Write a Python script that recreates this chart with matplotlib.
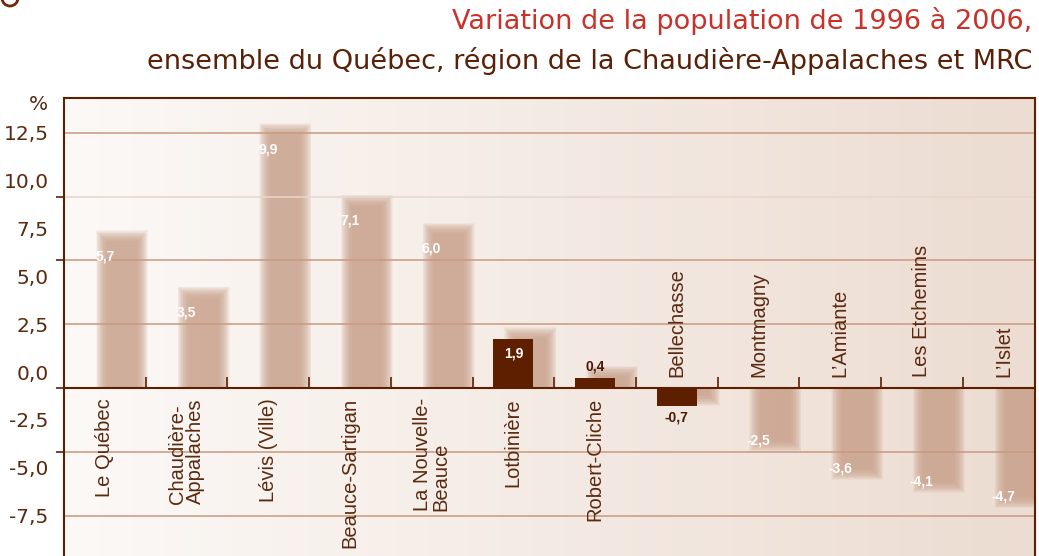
import numpy as np
import matplotlib
matplotlib.use("Agg")
import matplotlib.pyplot as plt
from matplotlib.patches import Circle
from matplotlib.colors import LinearSegmentedColormap

# Data
regions = ["Le Québec", "Chaudière-\nAppalaches", "Lévis (Ville)", "Beauce-Sartigan",
           "La Nouvelle-\nBeauce", "Lotbinière", "Robert-Cliche", "Bellechasse",
           "Montmagny", "L’Amiante", "Les Etchemins", "L’Islet"]
variation = [5.7, 3.5, 9.9, 7.1, 6.0, 1.9, 0.4, -0.7, -2.5, -3.6, -4.1, -4.7]
highlight = [False, False, False, False, False, True, True, True, False, False, False, False]
tick_labels = ["12,5", "10,0", "7,5", "5,0", "2,5", "0,0", "-2,5", "-5,0", "-7,5"]
grid_values = [10, 7.5, 5, 2.5, -2.5, -5]

DARK = "#5e1f00"
TXT = "#5a2a10"
SHADOW = "#cba38d"

fig = plt.figure(figsize=(10.39, 5.56), dpi=100)
ax = fig.add_axes([64 / 1039, 0, 971 / 1039, 458 / 556])

px_x = 1 / 81.7      # one pixel in x data units
px_y = 1 / 25.53     # one pixel in y data units
ax.set_xlim(-0.5, -0.5 + 971 * px_x)
ax.set_ylim(-168 * px_y, 290 * px_y)

# background gradient
grad = np.linspace(0, 1, 256).reshape(1, -1)
bg = LinearSegmentedColormap.from_list("bg", ["#fcf9f7", "#ecdcd1"])
ax.imshow(grad, cmap=bg, aspect="auto", extent=[ax.get_xlim()[0], ax.get_xlim()[1],
          ax.get_ylim()[0], ax.get_ylim()[1]], zorder=0)

x = np.arange(len(variation))
w = 0.49
vals = np.array(variation)
pos = vals >= 0

# soft shadows (layered translucent bars)
dx, dy = 17 * px_x, 6 * px_y
for pad in np.linspace(-5, 6, 16):
    end = vals + dy + np.where(pos, pad, -pad) * px_y
    lo = np.where(pos, 0, end)
    hi = np.where(pos, end, 0)
    ax.bar(x + dx, hi - lo, bottom=lo, width=w + 2 * pad * px_x,
           color=SHADOW, alpha=0.1, linewidth=0, zorder=1)

# gridlines
for g in grid_values:
    ax.axhline(g, color="#e8d6ca" if g == 7.5 else "#c89a80", lw=1.1, zorder=2)

# highlighted bars
hl = np.array(highlight)
ax.bar(x[hl], vals[hl], width=w, color=DARK, linewidth=0, zorder=3)

# value labels
for xi, v, h in zip(x, vals, highlight):
    s = f"{v:.1f}".replace(".", ",")
    if h and abs(v) < 1:
        y = v + (11 if v > 0 else -12) * px_y
        col = "#4a1805"
    else:
        y = v - (14 if v > 0 else -11) * px_y
        col = "white"
    ax.text(xi, y, s, ha="center", va="center", fontsize=10, fontweight="bold",
            color=col, family="Liberation Sans", zorder=4)

# category labels
for xi, v, name in zip(x, vals, regions):
    if v >= 0:
        ax.text(xi, -10 * px_y, name, rotation=90, ha="center", va="top",
                multialignment="left", fontsize=14.5, color=TXT,
                family="Liberation Sans", zorder=4, linespacing=0.95)
    else:
        ax.text(xi, 11 * px_y, name, rotation=90, ha="center", va="bottom",
                multialignment="left", fontsize=14.5, color=TXT,
                family="Liberation Sans", zorder=4, linespacing=0.95)

# axes styling
for side in ["left", "top", "right"]:
    ax.spines[side].set_color(DARK)
    ax.spines[side].set_linewidth(1.5)
ax.spines["bottom"].set_position(("data", 0))
ax.spines["bottom"].set_color(DARK)
ax.spines["bottom"].set_linewidth(1.5)
ax.spines["bottom"].set_zorder(5)

ax.set_xticks(x[:-1] + 0.5)
ax.set_xticklabels([])
ax.tick_params(axis="x", direction="in", length=8, width=1.2, color=DARK)

ax.set_yticks(np.linspace(10, -5, len(tick_labels)), labels=tick_labels)
ax.set_yticks([-5, -2.5, 0, 2.5, 5, 7.5, 10], minor=True)
ax.tick_params(axis="y", which="major", length=0, pad=11, labelsize=14.5,
               labelcolor=TXT)
ax.tick_params(axis="y", which="minor", length=6, width=1.2, color=DARK,
               direction="out")
for lab in ax.get_yticklabels():
    lab.set_family("DejaVu Sans")

fig.text(38 / 1039, 1 - 105 / 556, "%", ha="center", va="center", fontsize=14.5,
         color=TXT, family="DejaVu Sans")

# titles
fig.text(1032 / 1039, 1 - 21 / 556, "Variation de la population de 1996 à 2006,",
         ha="right", va="center", fontsize=19.5, color="#c8322a", family="DejaVu Sans")
fig.text(1032 / 1039, 1 - 61 / 556,
         "ensemble du Québec, région de la Chaudière-Appalaches et MRC",
         ha="right", va="center", fontsize=19.5, color="#5a2108", family="DejaVu Sans")

fig.add_artist(Circle((0.10, 5.56 + 0.02), 0.08, transform=fig.dpi_scale_trans,
                      fill=False, ec="#6b2a0a", lw=2, clip_on=False))

fig.savefig("out.png", dpi=100)
